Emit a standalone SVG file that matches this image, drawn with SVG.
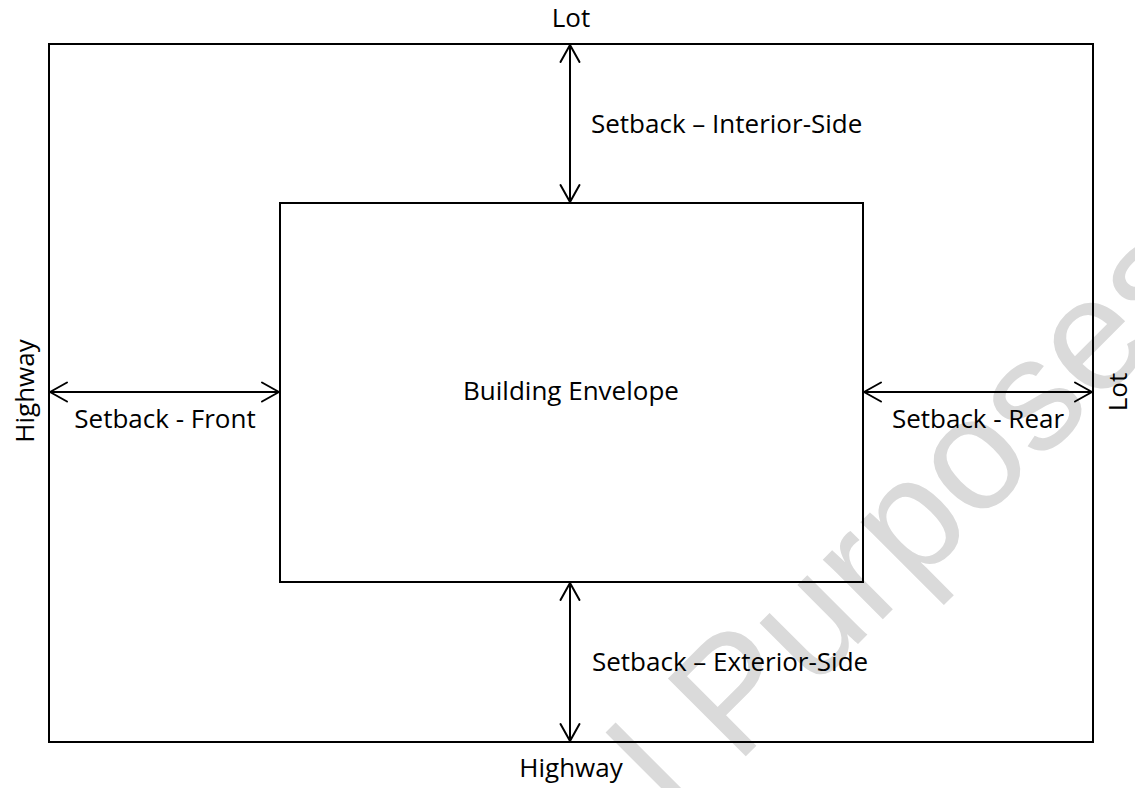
<svg xmlns="http://www.w3.org/2000/svg" width="1135" height="788" viewBox="0 0 1135 788">
  <style>
    .box { fill: none; stroke: #000; stroke-width: 2; }
    .dim { fill: none; stroke: #000; stroke-width: 2; }
    .lbl { font-family: "Open Sans", "Noto Sans", "Liberation Sans", sans-serif; font-size: 26px; fill: #000; }
    .wm { font-family: "Liberation Sans", Arial, sans-serif; font-size: 160px; fill: #dadada; }
  </style>
  <defs>
    <marker id="chev" markerUnits="userSpaceOnUse" markerWidth="20" markerHeight="22" refX="0" refY="0" orient="auto-start-reverse" overflow="visible">
      <path d="M -17,-9.5 L 0,0 L -17,9.5" fill="none" stroke="#000" stroke-width="2" stroke-linejoin="round" stroke-linecap="round"/>
    </marker>
  </defs>
  <rect width="1135" height="788" fill="#fff"/>
  <g id="watermark">
    <text class="wm" transform="translate(680,822) rotate(-45)">l Purposes.</text>
  </g>
  <g id="lot">
    <rect class="box" x="49" y="44" width="1044" height="698"/>
    <text class="lbl" x="571" y="27" text-anchor="middle">Lot</text>
    <text class="lbl" x="571" y="777" text-anchor="middle">Highway</text>
    <text class="lbl" transform="translate(34,391) rotate(-90)" text-anchor="middle">Highway</text>
    <text class="lbl" transform="translate(1127,392) rotate(-90)" text-anchor="middle">Lot</text>
  </g>
  <g id="building-envelope">
    <rect class="box" x="280" y="203" width="583" height="379"/>
    <text class="lbl" x="571" y="400" text-anchor="middle">Building Envelope</text>
  </g>
  <g id="connectors">
    <line class="dim" x1="570" y1="45" x2="570" y2="202" marker-start="url(#chev)" marker-end="url(#chev)"/>
    <line class="dim" x1="570" y1="583" x2="570" y2="741" marker-start="url(#chev)" marker-end="url(#chev)"/>
    <line class="dim" x1="50" y1="392" x2="279" y2="392" marker-start="url(#chev)" marker-end="url(#chev)"/>
    <line class="dim" x1="864" y1="392" x2="1092" y2="392" marker-start="url(#chev)" marker-end="url(#chev)"/>
  </g>
  <g id="labels">
    <text class="lbl" x="591" y="133">Setback – Interior-Side</text>
    <text class="lbl" x="592" y="671">Setback – Exterior-Side</text>
    <text class="lbl" x="165" y="428" text-anchor="middle">Setback - Front</text>
    <text class="lbl" x="978" y="428" text-anchor="middle">Setback - Rear</text>
  </g>
</svg>
